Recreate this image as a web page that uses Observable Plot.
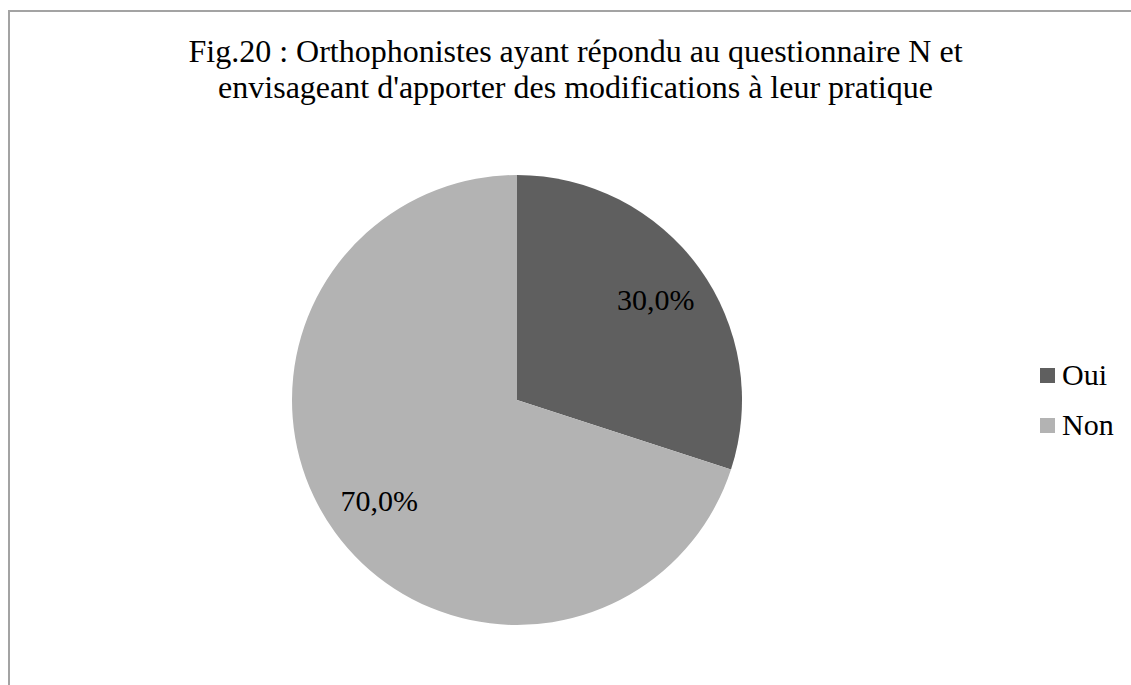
<!DOCTYPE html>
<html><head><meta charset="utf-8">
<script src="https://cdn.jsdelivr.net/npm/d3@7"></script>
<script src="https://cdn.jsdelivr.net/npm/@observablehq/plot@0.6"></script>
<style>
body{margin:0;background:#fff;}
#wrap{position:relative;width:1131px;height:685px;overflow:hidden;font-family:"Liberation Serif","Times New Roman",serif;background:#fff;}
#frame{position:absolute;left:8px;top:10px;width:1300px;height:900px;border:2px solid #a3a3a3;box-sizing:border-box;}
#title{position:absolute;left:0;width:1151px;top:33px;text-align:center;font-size:32px;line-height:36px;color:#000;}
#chart{position:absolute;left:0;top:0;}
.lg{position:absolute;left:1040px;font-size:30px;line-height:36px;height:36px;color:#000;white-space:nowrap;}
.lg .sw{position:absolute;left:0;top:11px;width:15px;height:15px;}
.lg .tx{position:absolute;left:22px;top:0;}
</style></head>
<body>
<div id="wrap">
  <div id="frame"></div>
  <div id="chart"></div>
  <div id="title">Fig.20 : Orthophonistes ayant répondu au questionnaire N et<br>envisageant d'apporter des modifications à leur pratique</div>
  <div id="legend"></div>
</div>
<script>
const categories = ["Oui", "Non"];
const values = [30.0, 70.0];
const colors = ["#5f5f5f", "#b3b3b3"];

const data = categories.map((c, i) => ({label: c, value: values[i]}));
const pie = d3.pie().sort(null).value(d => d.value)(data);
const colorOf = d3.scaleOrdinal(categories, colors);
const labelR = 0.76;
const labels = pie.map(a => {
  const m = (a.startAngle + a.endAngle) / 2;
  return {label: a.data.label, text: a.data.value.toFixed(1).replace(".", ",") + "%", x: labelR * Math.sin(m), y: labelR * Math.cos(m)};
});

function slices(index, scales) {
  const cx = scales.x(0), cy = scales.y(0), r = Math.abs(scales.x(1) - scales.x(0));
  const g = d3.create("svg:g").attr("transform", `translate(${cx},${cy})`);
  g.selectAll("path").data(pie).join("path")
    .attr("d", d3.arc().innerRadius(0).outerRadius(r))
    .attr("fill", d => colorOf(d.data.label));
  return g.node();
}

const chart = Plot.plot({
  width: 1131,
  height: 685,
  marginLeft: 292,
  marginRight: 389,
  marginTop: 175,
  marginBottom: 60,
  x: {domain: [-1, 1], axis: null},
  y: {domain: [-1, 1], axis: null},
  style: {fontFamily: "'Liberation Serif','Times New Roman',serif", background: "transparent"},
  marks: [
    slices,
    Plot.text(labels, {x: "x", y: "y", text: "text", fontSize: 30, fill: "#000"})
  ]
});
document.getElementById("chart").appendChild(chart);

const legend = document.getElementById("legend");
categories.forEach((c, i) => {
  const row = document.createElement("div");
  row.className = "lg";
  row.style.top = (357 + i * 50) + "px";
  row.innerHTML = `<span class="sw" style="background:${colors[i]}"></span><span class="tx">${c}</span>`;
  legend.appendChild(row);
});
</script>
</body></html>
